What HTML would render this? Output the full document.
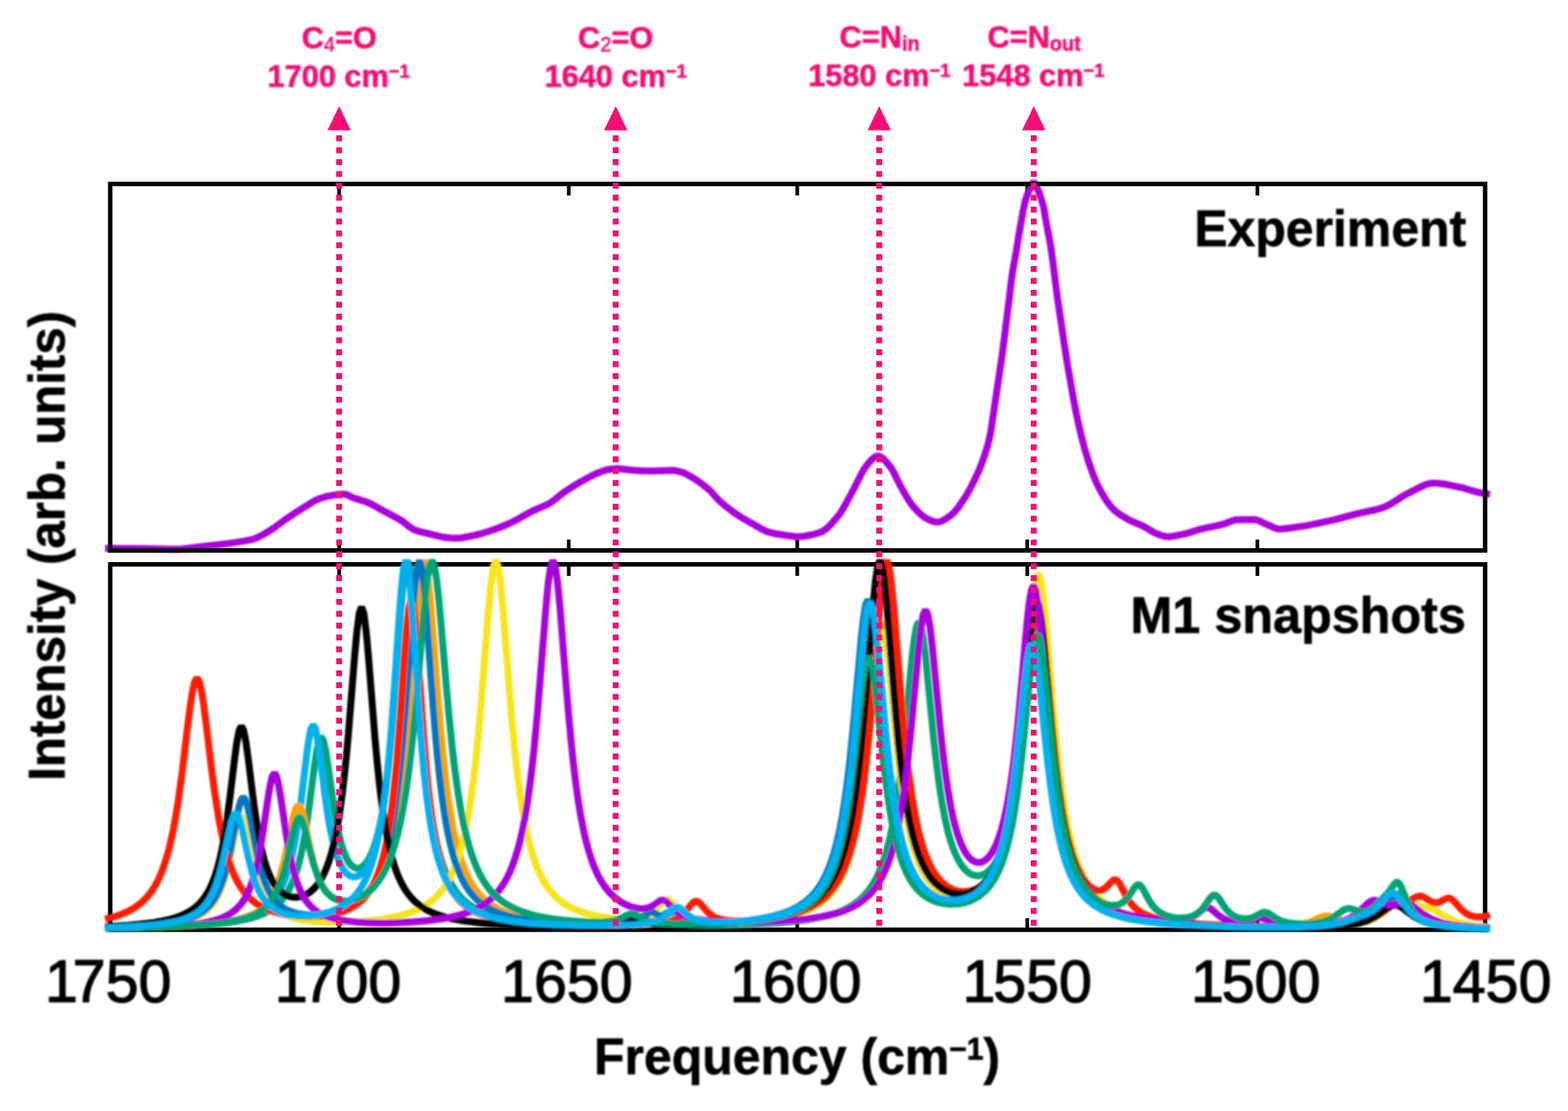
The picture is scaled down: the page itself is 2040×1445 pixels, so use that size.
<!DOCTYPE html>
<html lang="en"><head><meta charset="utf-8"><title>IR spectra: experiment vs M1 snapshots</title>
<style>html,body{margin:0;padding:0;background:#fff}body{width:2040px;height:1445px;overflow:hidden}svg{display:block}text{font-family:"Liberation Sans",sans-serif}.b{font-weight:bold}.pk{fill:#f50f74}</style></head><body>
<svg width="2040" height="1445" viewBox="0 0 2040 1445">
<defs><filter id="soft" x="0" y="0" width="2040" height="1445" filterUnits="userSpaceOnUse"><feGaussianBlur stdDeviation="0.8"/></filter></defs>
<rect width="2040" height="1445" fill="#fff"/>
<path d="M441.2,239.3V254.3M441.2,715.9V701.6999999999999M740.0,239.3V254.3M740.0,715.9V701.6999999999999M1037.2,239.3V254.3M1037.2,715.9V701.6999999999999M1336.5,239.3V254.3M1336.5,715.9V701.6999999999999M1635.9,239.3V254.3M1635.9,715.9V701.6999999999999" fill="none" stroke="#000" stroke-width="4.8"/>
<path d="M136.8,713.3L184.8,713.4L223.8,714.3L229.8,714.3L235.8,714L241.8,713.5L259.8,711.1L298.8,706.6L316.8,703.9L325.8,702.2L328.8,701.4L331.8,700.4L334.8,699.2L340.8,696.2L349.8,691L355.8,687.1L370.8,676L382.8,667.9L403.8,654.7L409.8,651.2L412.8,649.7L415.8,648.5L421.8,646.7L427.8,645.2L436.8,643.6L445.8,642.7L448.8,642.8L451.8,643.6L457.8,646.7L460.8,647.9L475.8,652.5L481.8,655L487.8,658.2L496.8,663.3L517.8,674.4L523.8,678.1L532.8,685.1L535.8,687.3L538.8,689L541.8,690.1L547.8,691.9L559.8,694.6L571.8,697.6L577.8,698.8L580.8,699.3L586.8,699.8L592.8,700.1L595.8,700L601.8,699.4L616.8,696.4L622.8,695L628.8,693.3L637.8,690.5L646.8,687.3L652.8,685L658.8,682.5L667.8,678.2L673.8,675.2L685.8,668.3L691.8,665.1L697.8,662.3L709.8,657.3L715.8,654.1L721.8,649.8L733.8,640.2L739.8,636.1L751.8,628.8L769.8,618.9L775.8,616L778.8,614.7L787.8,611.5L790.8,610.8L796.8,610L802.8,609.6L808.8,610L823.8,611.7L838.8,612.4L850.8,612.5L868.8,611.9L874.8,611.8L877.8,612.1L880.8,612.7L886.8,614.1L889.8,615.1L892.8,616.5L895.8,618.1L904.8,623.5L910.8,627.6L916.8,632.1L922.8,637.2L925.8,640.1L931.8,647L934.8,650.2L937.8,653L943.8,658.1L952.8,665L958.8,669.2L967.8,674.9L991.8,688.5L997.8,691.3L1000.8,692.3L1006.8,693.7L1021.8,696.2L1027.8,697.1L1033.8,697.7L1039.8,697.9L1045.8,697.5L1051.8,696.5L1057.8,695.2L1066.8,692.5L1069.8,691.3L1072.8,689.4L1075.8,687.1L1078.8,684.3L1081.8,681.1L1090.8,670.6L1093.8,666.4L1096.8,661.6L1099.8,656.3L1111.8,634.1L1120.8,616L1123.8,610.6L1126.8,606.3L1129.8,602.7L1132.8,599.2L1135.8,596.2L1138.8,594.1L1141.8,593.1L1144.8,593.7L1147.8,595.5L1150.8,598.3L1153.8,601.7L1156.8,605.2L1159.8,609.2L1162.8,614.4L1171.8,632.7L1180.8,648.3L1183.8,653L1186.8,657.2L1192.8,664L1195.8,667L1198.8,669.7L1201.8,672.1L1204.8,674L1210.8,676.9L1213.8,678L1216.8,678.8L1219.8,679.1L1222.8,678.6L1225.8,677.5L1228.8,675.9L1231.8,674L1237.8,669.7L1240.8,667L1243.8,663.6L1246.8,659.7L1255.8,646.5L1258.8,641.6L1261.8,636.2L1267.8,624.4L1273.8,611.3L1276.8,603.8L1279.8,595.6L1282.8,586.6L1285.8,576.2L1288.8,562.9L1303.8,462.2L1312.8,390.5L1315.8,364.4L1318.8,345.1L1321.8,329.2L1324.8,309.9L1330.8,275.6L1333.8,261.6L1337.2,251.5L1344.8,235.7L1352.4,251.5L1357.8,269.1L1360.8,287.2L1366.8,318.8L1369.8,340.5L1375.8,387.9L1384.8,448.5L1387.8,467.8L1390.8,485.8L1396.8,519.9L1399.8,535.4L1402.8,549.6L1405.8,562.7L1408.8,574.7L1411.8,585.8L1414.8,596L1417.8,605L1420.8,613.5L1423.8,621.3L1426.8,628.4L1429.8,634.6L1435.8,645.3L1438.8,650.1L1441.8,654.5L1444.8,658.3L1447.8,661.6L1450.8,664.4L1453.8,666.8L1456.8,669L1462.8,672.8L1471.8,677.7L1486.8,684.2L1489.8,685.6L1492.8,687.3L1498.8,691.2L1501.8,692.9L1507.8,695.3L1510.8,696.4L1513.8,697.3L1516.8,697.8L1519.8,697.9L1522.8,697.7L1525.8,697.4L1531.8,696.4L1543.8,693.9L1561.8,688.3L1567.8,686.8L1582.8,683.9L1588.8,682.5L1591.8,681.7L1603.8,677.2L1606.8,676.3L1609.8,675.9L1630.8,675.8L1633.8,676.1L1636.8,676.9L1639.8,678.2L1645.8,681.1L1651.8,683.7L1657.8,686.5L1660.8,687.5L1663.8,688L1669.8,687.8L1678.8,686.7L1699.8,683.6L1714.8,680.7L1735.8,676.2L1765.8,668.1L1789.8,663L1798.8,660.4L1801.8,659.3L1807.8,656.3L1813.8,652.6L1825.8,644.9L1828.8,643.2L1846.8,633.9L1852.8,631.1L1855.8,630L1858.8,629.2L1861.8,628.6L1864.8,628.4L1870.8,628.6L1876.8,629.3L1882.8,630.3L1903.8,634.7L1918.8,639.2L1924.8,640.8L1930.8,641.9L1938.5,642.7" fill="none" stroke="#a800dc" stroke-width="9.0" stroke-linejoin="bevel" filter="url(#soft)"/>
<rect x="143.4" y="239.3" width="1788.8" height="476.6" fill="none" stroke="#000" stroke-width="5.8"/>
<rect x="143.4" y="734.0" width="1788.8" height="475.3" fill="none" stroke="#000" stroke-width="5.8"/>
<path d="M441.2,734.0V749.0M441.2,1209.3V1194.3M740.0,734.0V749.0M740.0,1209.3V1194.3M1037.2,734.0V749.0M1037.2,1209.3V1194.3M1336.5,734.0V749.0M1336.5,1209.3V1194.3M1635.9,734.0V749.0M1635.9,1209.3V1194.3" fill="none" stroke="#000" stroke-width="4.8"/>
<g fill="none" stroke-linejoin="bevel" stroke-linecap="butt" stroke-width="9.0" filter="url(#soft)">
<path d="M136.8,1207.6L193.8,1206.4L216.3,1205.6L237.3,1204.7L255.3,1203.7L270.3,1202.7L285.3,1201.3L297.3,1199.8L307.8,1198.2L318.3,1196.2L327.3,1193.9L334.8,1191.5L342.3,1188.6L348.3,1185.6L354.3,1181.9L357.3,1179.7L360.3,1177.2L364.8,1172.8L369.3,1167.5L373.8,1160.8L376.8,1155.5L379.8,1149.3L382.8,1142L385.8,1133.3L388.8,1123L391.8,1110.8L393.3,1103.8L396.3,1088.1L397.8,1079.3L402.3,1048.8L408.6,1000.2L411.6,979.3L414.6,964.3L417.6,958.3L420.6,962.7L423.6,976L426.6,995.2L433.8,1046L436.8,1064.3L438.3,1072.5L441.3,1086.7L444.3,1098.3L447.3,1107.6L450.3,1114.9L453.3,1120.5L454.8,1122.7L456.3,1124.6L457.8,1126.1L459.3,1127.3L460.8,1128.2L462.3,1128.9L463.8,1129.3L465.3,1129.4L466.8,1129.3L468.3,1128.9L469.8,1128.2L471.3,1127.3L472.8,1126.2L475.8,1123L478.8,1118.8L480.3,1116.2L483.3,1110.1L486.3,1102.5L489.3,1093.1L492.3,1081.8L495.3,1068.1L498.3,1051.6L501.3,1031.9L504.3,1008.2L505.8,994.8L508.8,964.4L510.3,947.4L514.8,889.4L521,801.2L524,763.9L527,738.1L530,729L533,738.8L536,765.4L539,803.4L544.8,887.6L547.8,928.6L550.8,965.4L553.8,997.3L556.8,1024.7L558.3,1036.7L561.3,1058.1L564.3,1076.1L565.8,1084.1L568.8,1098.2L570.3,1104.4L573.3,1115.5L576.3,1125L579.3,1133.2L582.3,1140.3L585.3,1146.4L588.3,1151.8L592.8,1158.7L597.3,1164.5L601.8,1169.3L606.3,1173.4L610.8,1176.9L616.8,1180.8L622.8,1184L628.8,1186.7L636.3,1189.5L645.3,1192.2L654.3,1194.3L664.8,1196.3L675.3,1197.9L687.3,1199.3L700.8,1200.6L715.8,1201.6L732.3,1202.5L756.3,1203.3L777.3,1203.5L793.8,1203.2L805.8,1202.4L813.3,1201.3L819.3,1199.8L822.3,1198.8L825.3,1197.6L832.8,1193.6L835.8,1192.2L838.8,1191.4L840.3,1191.4L841.8,1191.5L844.8,1192.5L853.8,1197.2L856.8,1198.6L859.8,1199.7L862.8,1200.5L867.3,1201.5L874.8,1202.6L886.8,1203.5L904.8,1203.9L928.8,1203.9L955.8,1203.3L987.3,1202L1014.3,1200.3L1026.3,1199.2L1038.3,1197.9L1048.8,1196.5L1057.8,1195L1066.8,1193.2L1074.3,1191.5L1081.8,1189.4L1089.3,1186.9L1095.3,1184.5L1101.3,1181.7L1107.3,1178.4L1111.8,1175.5L1116.3,1172.1L1119.3,1169.6L1123.8,1165.3L1126.8,1162L1129.8,1158.4L1132.8,1154.3L1135.8,1149.7L1138.8,1144.5L1141.8,1138.6L1144.8,1131.9L1149.3,1120L1152.3,1110.6L1153.8,1105.4L1156.8,1093.8L1158.3,1087.3L1161.3,1072.9L1162.8,1064.8L1165.8,1046.8L1168.8,1026.1L1171.8,1002.5L1176.3,961.3L1186.3,857.8L1189.3,832.3L1192.3,814.9L1195.3,808.6L1198.3,814.2L1201.3,830.8L1204.3,855.6L1215.3,966L1219.8,1004.4L1222.8,1026.2L1225.8,1045.1L1228.8,1061.3L1230.3,1068.5L1233.3,1081.3L1234.8,1086.9L1237.8,1096.9L1239.3,1101.4L1242.3,1109.2L1245.3,1115.7L1248.3,1121.2L1251.3,1125.8L1254.3,1129.6L1257.3,1132.7L1260.3,1135.1L1263.3,1136.9L1264.8,1137.6L1267.8,1138.5L1270.8,1139L1273.8,1138.9L1275.3,1138.6L1278.3,1137.8L1281.3,1136.4L1284.3,1134.5L1287.3,1131.9L1290.3,1128.7L1291.8,1126.8L1294.8,1122.5L1296.3,1120L1299.3,1114.3L1300.8,1111L1303.8,1103.7L1305.3,1099.5L1308.3,1090.1L1311.3,1079.1L1312.8,1072.8L1315.8,1058.8L1318.8,1042.3L1321.8,1023.1L1324.8,1000.8L1327.8,975.3L1332.3,931L1341.5,830.6L1344.5,803.9L1347.5,786L1350.5,779.8L1353.5,786.7L1356.5,805.3L1359.5,832.7L1369.8,947L1374.3,990.8L1377.3,1015.9L1380.3,1037.8L1383.3,1056.9L1384.8,1065.4L1387.8,1080.7L1389.3,1087.6L1392.3,1099.9L1393.8,1105.4L1396.8,1115.3L1401.3,1127.9L1404.3,1135L1407.3,1141.2L1410.3,1146.7L1413.3,1151.6L1416.3,1156L1419.3,1159.8L1422.3,1163.3L1426.8,1167.9L1429.8,1170.6L1434.3,1174.1L1437.3,1176.2L1441.8,1179L1449.3,1183L1453.8,1185L1458.3,1186.8L1467.3,1189.8L1477.8,1192.7L1489.8,1195.2L1503.3,1197.4L1516.8,1199.1L1534.8,1200.9L1554.3,1202.3L1576.8,1203.5L1602.3,1204.4L1630.8,1205.1L1660.8,1205.5L1686.3,1205.5L1708.8,1205L1720.8,1204.6L1731.3,1204L1740.3,1203.2L1747.8,1202.3L1755.3,1201.2L1761.3,1199.9L1767.3,1198.3L1773.3,1196.3L1777.8,1194.3L1780.8,1192.7L1785.3,1189.9L1788.3,1187.7L1791.3,1185.2L1795.8,1180.9L1806.3,1169.2L1809.3,1166.3L1812.3,1164.1L1813.8,1163.3L1815.3,1162.8L1816.8,1162.7L1818.3,1162.8L1819.8,1163.2L1821.3,1163.9L1824.3,1166.1L1827.3,1169L1836.3,1179.1L1839.3,1182.3L1843.8,1186.5L1846.8,1188.9L1849.8,1191.1L1854.3,1193.8L1858.8,1196.1L1863.3,1197.9L1869.3,1199.8L1875.3,1201.3L1882.8,1202.8L1891.8,1204.1L1900.8,1205.1L1911.3,1205.9L1923.3,1206.6L1938.3,1207.2" stroke="#00a374"/>
<path d="M136.8,1207.5L190.8,1206.2L213.3,1205.4L232.8,1204.5L250.8,1203.5L265.8,1202.3L279.3,1200.9L291.3,1199.2L301.8,1197.4L310.8,1195.5L319.8,1192.9L327.3,1190.3L334.8,1186.9L340.8,1183.4L343.8,1181.4L346.8,1179.1L351.3,1175.1L355.8,1170.2L360.3,1164.2L364.8,1156.7L367.8,1150.6L370.8,1143.5L373.8,1135.1L376.8,1125.1L379.8,1113.3L382.8,1099.2L384.3,1091.2L387.3,1073.1L388.8,1063L391.8,1040.8L398.3,987.1L401.3,964.7L404.3,948.7L407.3,942.5L410.3,947.5L413.3,962.3L416.3,983.4L423.3,1037.9L426.3,1058.4L427.8,1067.6L429.3,1076L432.3,1090.7L435.3,1102.8L438.3,1112.7L441.3,1120.6L442.8,1123.9L445.8,1129.4L447.3,1131.7L450.3,1135.3L451.8,1136.7L454.8,1138.8L456.3,1139.5L457.8,1140L459.3,1140.3L460.8,1140.4L462.3,1140.3L465.3,1139.5L468.3,1137.8L469.8,1136.7L472.8,1133.8L474.3,1132L477.3,1127.7L478.8,1125.1L481.8,1119.1L484.8,1111.6L486.3,1107.4L489.3,1097.4L492.3,1085.4L495.3,1070.9L498.3,1053.4L501.3,1032.3L504.3,1006.9L505.8,992.4L508.8,959.6L510.3,941.1L513.3,900.5L519.5,807.7L522.5,767.4L525.5,739.1L528.5,729L531.5,739.7L534.5,768.7L537.5,809.6L543.3,897.9L546.3,939.9L549.3,976.9L552.3,1008.6L555.3,1035.3L558.3,1057.9L561.3,1076.7L562.8,1085L565.8,1099.6L567.3,1106L570.3,1117.3L573.3,1126.9L576.3,1135.2L579.3,1142.3L582.3,1148.5L585.3,1153.8L589.8,1160.6L592.8,1164.5L597.3,1169.5L601.8,1173.7L606.3,1177.2L610.8,1180.3L616.8,1183.7L622.8,1186.5L630.3,1189.4L636.3,1191.3L642.3,1192.9L648.3,1194.3L655.8,1195.8L663.3,1197.1L672.3,1198.3L690.3,1200.2L712.8,1201.8L738.3,1202.9L766.8,1203.5L795.3,1203.6L811.8,1203.2L823.8,1202.6L834.3,1201.5L841.8,1200.1L847.8,1198.3L852.3,1196.4L856.8,1193.8L862.8,1189.6L865.8,1187.8L867.3,1187.1L868.8,1186.7L870.3,1186.6L871.8,1186.8L873.3,1187.2L874.8,1187.9L883.8,1193.7L888.3,1196L892.8,1197.7L897.3,1198.9L904.8,1200L913.8,1200.7L925.8,1200.8L939.3,1200.5L949.8,1200L960.3,1199.2L970.8,1198.3L979.8,1197.3L988.8,1196L996.3,1194.8L1003.8,1193.4L1011.3,1191.6L1018.8,1189.6L1024.8,1187.6L1030.8,1185.4L1035.3,1183.4L1039.8,1181.2L1044.3,1178.6L1048.8,1175.7L1053.3,1172.3L1057.8,1168.4L1060.8,1165.4L1063.8,1162.1L1066.8,1158.4L1069.8,1154.2L1072.8,1149.6L1075.8,1144.3L1078.8,1138.3L1083.3,1127.8L1087.8,1114.9L1090.8,1104.7L1092.3,1099L1095.3,1086.3L1096.8,1079.2L1099.8,1063.4L1102.8,1045.1L1105.8,1024L1108.8,999.7L1111.8,972.3L1114.8,941.8L1124,841L1127,814.1L1130,795.9L1133,789.4L1136,795.7L1139,813.6L1142,840.2L1152.3,951.6L1156.8,994.2L1159.8,1018.6L1162.8,1039.8L1165.8,1058.2L1167.3,1066.4L1170.3,1081.1L1171.8,1087.7L1174.8,1099.4L1176.3,1104.6L1179.3,1114L1180.8,1118.2L1183.8,1125.8L1186.8,1132.3L1189.8,1138L1192.8,1143L1195.8,1147.3L1198.8,1151.1L1201.8,1154.4L1204.8,1157.3L1209.3,1161L1212.3,1163L1216.8,1165.6L1219.8,1167L1222.8,1168.1L1228.8,1169.9L1234.8,1170.9L1237.8,1171.2L1242.3,1171.2L1248.3,1170.7L1254.3,1169.5L1260.3,1167.6L1263.3,1166.3L1266.3,1164.8L1270.8,1161.9L1275.3,1158.4L1279.8,1154.1L1284.3,1148.7L1288.8,1142.1L1291.8,1136.9L1296.3,1127.5L1299.3,1119.9L1302.3,1111.2L1303.8,1106.4L1306.8,1095.5L1308.3,1089.3L1311.3,1075.7L1312.8,1068L1315.8,1050.9L1317.3,1041.3L1320.3,1020.1L1324.8,982.9L1327.8,954.7L1336,873.7L1339,849.6L1342,833.3L1345,827.7L1348,833.6L1351,850.2L1354,874.6L1362.3,957.4L1365.3,985.8L1369.8,1023.4L1372.8,1044.8L1375.8,1063.5L1378.8,1079.7L1380.3,1086.9L1383.3,1099.9L1384.8,1105.7L1387.8,1116.1L1389.3,1120.8L1392.3,1129.2L1396.8,1139.9L1399.8,1145.9L1402.8,1151.2L1405.8,1155.9L1408.8,1160.1L1411.8,1163.8L1414.8,1167.1L1417.8,1170.1L1422.3,1174L1425.3,1176.2L1429.8,1179.3L1432.8,1181.1L1437.3,1183.5L1444.8,1186.9L1453.8,1190.1L1464.3,1193.1L1474.8,1195.4L1486.8,1197.5L1500.3,1199.3L1515.3,1200.9L1534.8,1202.4L1555.8,1203.6L1581.3,1204.6L1608.3,1205.4L1638.3,1205.8L1666.8,1205.9L1690.8,1205.7L1711.8,1205.1L1722.3,1204.5L1731.3,1203.8L1738.8,1203.1L1746.3,1202.1L1752.3,1201L1758.3,1199.7L1764.3,1197.9L1768.8,1196.2L1773.3,1194.2L1776.3,1192.6L1779.3,1190.7L1782.3,1188.6L1785.3,1186.2L1789.8,1182L1792.8,1178.8L1800.3,1170.4L1804.8,1165.9L1807.8,1163.8L1809.3,1163.1L1810.8,1162.7L1812.3,1162.7L1813.8,1162.9L1815.3,1163.4L1816.8,1164.2L1819.8,1166.5L1822.8,1169.5L1830.3,1178L1834.8,1182.8L1837.8,1185.7L1842.3,1189.4L1845.3,1191.5L1849.8,1194.2L1854.3,1196.4L1858.8,1198.2L1864.8,1200.1L1872.3,1201.9L1879.8,1203.2L1888.8,1204.4L1899.3,1205.5L1909.8,1206.2L1923.3,1206.9L1938.3,1207.5" stroke="#00b1ee"/>
<path d="M136.8,1207.7L184.8,1206.7L222.3,1205.5L252.3,1203.9L264.3,1203L276.3,1201.9L286.8,1200.6L295.8,1199.2L303.3,1197.8L310.8,1196L316.8,1194.2L322.8,1192L328.8,1189.2L333.3,1186.6L337.8,1183.4L340.8,1180.9L345.3,1176.5L348.3,1172.8L351.3,1168.6L354.3,1163.6L357.3,1157.6L360.3,1150.5L363.3,1142.2L364.8,1137.4L367.8,1126.6L369.3,1120.6L372.3,1107.3L379,1074.1L382,1060.6L385,1051L388,1047.3L391,1050.4L394,1059.3L397,1072L402.3,1097.3L405.3,1110.6L408.3,1122.3L411.3,1132.3L414.3,1140.6L415.8,1144.2L418.8,1150.4L421.8,1155.5L423.3,1157.7L426.3,1161.4L429.3,1164.3L432.3,1166.7L435.3,1168.5L438.3,1169.9L441.3,1170.9L445.8,1171.8L448.8,1172L453.3,1171.8L457.8,1171L462.3,1169.7L466.8,1167.8L469.8,1166.1L474.3,1163.1L477.3,1160.7L480.3,1157.9L483.3,1154.7L486.3,1151L489.3,1146.8L493.8,1139.3L498.3,1130.1L501.3,1122.8L502.8,1118.7L505.8,1109.6L507.3,1104.6L510.3,1093.2L513.3,1080L514.8,1072.5L517.8,1055.9L520.8,1036.4L523.8,1013.6L526.8,987.2L529.8,956.8L534.3,903.8L542.8,792.2L545.8,759.3L548.8,736.9L551.8,729L554.8,737.1L557.8,759.6L560.8,792.7L568.8,898.3L571.8,935.3L574.8,968.5L577.8,997.7L580.8,1023L582.3,1034.4L585.3,1054.6L588.3,1071.9L589.8,1079.6L592.8,1093.4L595.8,1105.2L598.8,1115.5L601.8,1124.4L604.8,1132.1L607.8,1138.9L610.8,1144.9L613.8,1150.1L618.3,1156.9L622.8,1162.6L627.3,1167.4L631.8,1171.6L636.3,1175.1L642.3,1179.1L648.3,1182.4L654.3,1185.2L661.8,1188.1L669.3,1190.4L678.3,1192.8L688.8,1194.9L699.3,1196.7L711.3,1198.2L723.3,1199.4L736.8,1200.5L751.8,1201.3L771.3,1202L789.3,1202.3L804.3,1202.1L816.3,1201.3L823.8,1200.3L829.8,1199L832.8,1198L835.8,1196.8L844.8,1192.6L847.8,1191.6L849.3,1191.4L850.8,1191.4L853.8,1192L856.8,1193.3L864.3,1196.8L867.3,1198L870.3,1198.9L876.3,1200.3L882.3,1201.1L892.8,1201.9L904.8,1202.2L921.3,1202.1L939.3,1201.6L963.3,1200.3L975.3,1199.4L985.8,1198.4L996.3,1197.2L1005.3,1195.9L1014.3,1194.3L1021.8,1192.8L1029.3,1191L1036.8,1188.8L1042.8,1186.7L1048.8,1184.3L1054.8,1181.4L1059.3,1178.9L1063.8,1176L1068.3,1172.6L1072.8,1168.8L1075.8,1165.8L1078.8,1162.5L1081.8,1158.9L1084.8,1154.7L1087.8,1150.1L1092.3,1142L1096.8,1132.1L1101.3,1120.1L1104.3,1110.6L1105.8,1105.3L1108.8,1093.5L1110.3,1086.9L1113.3,1072.2L1114.8,1064L1117.8,1045.7L1120.8,1024.6L1123.8,1000.5L1128.3,958.7L1138,857.7L1141,832.1L1144,814.8L1147,808.6L1150,814.5L1153,831.5L1156,856.8L1164.3,942.6L1167.3,972.1L1171.8,1011L1174.8,1033.1L1176.3,1043L1179.3,1060.9L1180.8,1068.9L1183.8,1083.1L1185.3,1089.4L1188.3,1100.8L1189.8,1105.9L1192.8,1114.9L1195.8,1122.7L1198.8,1129.4L1201.8,1135.3L1206.3,1142.6L1210.8,1148.5L1215.3,1153.2L1219.8,1157L1224.3,1160.1L1228.8,1162.4L1231.8,1163.6L1234.8,1164.6L1237.8,1165.3L1240.8,1165.8L1243.8,1166.2L1246.8,1166.3L1249.8,1166.2L1252.8,1165.9L1255.8,1165.4L1258.8,1164.7L1261.8,1163.7L1264.8,1162.5L1269.3,1160.2L1273.8,1157.3L1276.8,1154.9L1279.8,1152.2L1282.8,1149L1285.8,1145.3L1288.8,1141.1L1293.3,1133.5L1297.8,1124.1L1300.8,1116.6L1302.3,1112.4L1305.3,1103.1L1306.8,1097.9L1309.8,1086.2L1311.3,1079.6L1314.3,1065L1315.8,1056.8L1318.8,1038.4L1321.8,1017.1L1324.8,992.7L1329.3,950.1L1339.5,840L1342.5,813.5L1345.5,795.6L1348.5,789.4L1351.5,796L1354.5,814.1L1357.5,841L1366.8,942.8L1369.8,973.2L1372.8,1000.6L1375.8,1024.7L1378.8,1045.7L1381.8,1063.9L1383.3,1072.1L1386.3,1086.7L1387.8,1093.3L1390.8,1105L1392.3,1110.3L1395.3,1119.8L1399.8,1131.8L1402.8,1138.6L1405.8,1144.6L1408.8,1149.8L1411.8,1154.5L1414.8,1158.7L1417.8,1162.4L1420.8,1165.7L1425.3,1170L1428.3,1172.6L1432.8,1176L1438.8,1179.8L1446.3,1183.8L1453.8,1187L1461.3,1189.6L1470.3,1192.2L1480.8,1194.6L1491.3,1196.5L1503.3,1198.3L1516.8,1199.8L1533.3,1201.3L1549.8,1202.4L1569.3,1203.5L1590.3,1204.2L1612.8,1204.8L1633.8,1205L1653.3,1204.9L1666.8,1204.5L1677.3,1203.9L1686.3,1203.1L1693.8,1201.9L1699.8,1200.5L1704.3,1199.1L1708.8,1197.3L1717.8,1193.2L1720.8,1192.1L1723.8,1191.5L1725.3,1191.3L1726.8,1191.4L1729.8,1191.9L1732.8,1192.8L1738.8,1195L1743.3,1196.5L1746.3,1197.2L1750.8,1198L1755.3,1198.4L1761.3,1198.4L1767.3,1197.9L1771.8,1197L1776.3,1195.9L1780.8,1194.3L1785.3,1192.3L1788.3,1190.7L1791.3,1188.8L1795.8,1185.4L1798.8,1182.9L1807.8,1174.7L1810.8,1172.4L1813.8,1170.7L1815.3,1170.2L1816.8,1169.9L1818.3,1169.8L1819.8,1170L1821.3,1170.5L1822.8,1171.2L1825.8,1173.1L1828.8,1175.6L1836.3,1182.8L1840.8,1186.8L1843.8,1189.2L1848.3,1192.3L1851.3,1194.1L1855.8,1196.3L1860.3,1198.2L1864.8,1199.7L1870.8,1201.3L1876.8,1202.5L1884.3,1203.8L1893.3,1204.8L1902.3,1205.7L1912.8,1206.4L1938.3,1207.5" stroke="#fba400"/>
<path d="M136.8,1207.2L166.8,1206.2L190.8,1205L210.3,1203.4L219.3,1202.3L226.8,1201.2L234.3,1199.9L240.3,1198.5L246.3,1196.7L250.8,1195.2L255.3,1193.3L259.8,1191L264.3,1188.2L267.3,1185.9L270.3,1183.3L273.3,1180.3L276.3,1176.7L279.3,1172.4L282.3,1167.4L283.8,1164.6L286.8,1158L288.3,1154.3L291.3,1145.8L292.8,1141L295.8,1130.2L298.8,1117.8L305.5,1086.8L308.5,1074.3L311.5,1065.4L314.5,1062.2L317.5,1065.3L320.5,1074.1L323.5,1086.5L330.3,1117.7L333.3,1129.9L334.8,1135.5L337.8,1145.4L340.8,1153.7L343.8,1160.7L346.8,1166.5L349.8,1171.4L352.8,1175.5L355.8,1179L358.8,1181.9L363.3,1185.5L367.8,1188.3L373.8,1191.3L378.3,1193L382.8,1194.3L387.3,1195.5L393.3,1196.7L399.3,1197.6L405.3,1198.3L418.8,1199.2L435.3,1199.6L453.3,1199.3L471.3,1198.3L480.3,1197.5L489.3,1196.6L502.8,1194.6L514.8,1192.3L525.3,1189.6L531.3,1187.8L535.8,1186.2L540.3,1184.3L544.8,1182.3L552.3,1178.2L556.8,1175.3L559.8,1173.1L565.8,1168.1L570.3,1163.6L573.3,1160.1L576.3,1156.3L579.3,1152L582.3,1147.2L585.3,1141.7L589.8,1132.2L594.3,1120.7L598.8,1106.6L601.8,1095.4L603.3,1089.2L606.3,1075.3L607.8,1067.6L610.8,1050.3L612.3,1040.6L615.3,1019.1L618.3,994.2L621.3,965.7L625.8,916.1L636,788.1L639,757.2L642,736.4L645,729L648,736.4L651,757.2L654,788.1L663.3,905.2L666.3,940.1L669.3,971.6L672.3,999.3L675.3,1023.4L676.8,1034.3L679.8,1053.7L682.8,1070.5L684.3,1078L687.3,1091.4L690.3,1103.1L693.3,1113.2L696.3,1122L699.3,1129.7L702.3,1136.5L705.3,1142.5L708.3,1147.8L712.8,1154.6L717.3,1160.3L721.8,1165.2L726.3,1169.4L730.8,1173L735.3,1176.1L741.3,1179.6L747.3,1182.5L754.8,1185.5L763.8,1188.4L772.8,1190.7L781.8,1192.4L792.3,1193.9L802.8,1194.9L813.3,1195.4L822.3,1195.2L829.8,1194.5L834.3,1193.7L838.8,1192.6L843.3,1190.8L846.3,1189.2L849.3,1187.1L852.3,1184.5L855.3,1181.4L861.3,1174.3L864.3,1171.3L865.8,1170.3L867.3,1169.9L868.8,1169.9L870.3,1170.5L871.8,1171.6L873.3,1173L882.3,1183.9L886.8,1188.1L889.8,1190.3L894.3,1192.8L897.3,1194.1L901.8,1195.6L906.3,1196.6L912.3,1197.6L919.8,1198.4L927.3,1198.8L936.3,1199.1L946.8,1199.1L957.3,1198.9L969.3,1198.4L988.8,1197L997.8,1196L1006.8,1194.9L1014.3,1193.7L1021.8,1192.3L1029.3,1190.6L1035.3,1189L1041.3,1187.2L1047.3,1185L1053.3,1182.4L1057.8,1180.2L1062.3,1177.6L1066.8,1174.6L1071.3,1171.2L1074.3,1168.6L1077.3,1165.7L1080.3,1162.5L1083.3,1158.8L1086.3,1154.8L1089.3,1150.2L1092.3,1145L1096.8,1135.9L1101.3,1124.8L1104.3,1116L1105.8,1111.1L1108.8,1100.2L1110.3,1094.2L1113.3,1080.6L1116.3,1064.9L1119.3,1046.8L1122.3,1025.9L1125.3,1002.1L1129.8,961L1139,868.1L1142,843.3L1145,826.6L1148,820.5L1151,826.2L1154,842.7L1157,867.1L1165.8,955L1168.8,983.1L1171.8,1008.4L1173.3,1020L1176.3,1040.9L1177.8,1050.2L1180.8,1067.1L1182.3,1074.6L1185.3,1088L1186.8,1093.9L1189.8,1104.6L1191.3,1109.4L1194.3,1117.9L1197.3,1125.2L1201.8,1134.4L1204.8,1139.5L1209.3,1145.8L1213.8,1150.9L1218.3,1155L1222.8,1158.3L1227.3,1160.8L1230.3,1162.1L1233.3,1163.1L1236.3,1164L1239.3,1164.6L1242.3,1165L1245.3,1165.1L1248.3,1165.1L1251.3,1164.9L1254.3,1164.4L1257.3,1163.8L1260.3,1162.9L1263.3,1161.8L1266.3,1160.4L1269.3,1158.8L1273.8,1155.8L1278.3,1152L1281.3,1149L1284.3,1145.6L1287.3,1141.6L1290.3,1137.1L1293.3,1131.9L1297.8,1122.6L1300.8,1115.2L1302.3,1111.1L1305.3,1101.9L1306.8,1096.8L1309.8,1085.4L1311.3,1079L1314.3,1064.6L1317.3,1048L1318.8,1038.7L1321.8,1017.8L1324.8,993.8L1327.8,966.2L1332.3,918.3L1342,802.3L1345,773L1348,753.2L1351,746.4L1354,753.6L1357,773.6L1360,803.3L1369.8,921.4L1374.3,969.7L1377.3,997.5L1380.3,1021.8L1383.3,1042.9L1384.8,1052.3L1387.8,1069.3L1389.3,1076.8L1392.3,1090.5L1393.8,1096.6L1396.8,1107.5L1401.3,1121.4L1404.3,1129.2L1407.3,1136.1L1410.3,1142.1L1413.3,1147.5L1416.3,1152.2L1419.3,1156.5L1422.3,1160.2L1426.8,1165.2L1429.8,1168.1L1434.3,1172L1440.3,1176.4L1443.3,1178.3L1447.8,1180.8L1452.3,1183.1L1456.8,1185.1L1465.8,1188.4L1474.8,1191.1L1485.3,1193.7L1497.3,1196L1510.8,1198L1525.8,1199.7L1543.8,1201.3L1563.3,1202.6L1584.3,1203.6L1609.8,1204.5L1636.8,1205.2L1663.8,1205.5L1689.3,1205.5L1719.3,1205L1731.3,1204.6L1741.8,1203.9L1750.8,1203.1L1759.8,1202L1767.3,1200.7L1773.3,1199.4L1777.8,1198.1L1782.3,1196.5L1786.8,1194.6L1791.3,1192.3L1795.8,1189.4L1800.3,1186L1812.3,1175.3L1815.3,1172.9L1818.3,1171.1L1819.8,1170.4L1821.3,1170L1822.8,1169.7L1824.3,1169.7L1827.3,1170.1L1830.3,1171.2L1839.3,1175.7L1843.8,1177.5L1848.3,1178.8L1858.8,1180.8L1863.3,1182.3L1866.3,1183.6L1869.3,1185.3L1879.8,1191.7L1884.3,1194.1L1890.3,1196.9L1896.3,1199.1L1900.8,1200.4L1905.3,1201.5L1914.3,1203.2L1924.8,1204.6L1938.3,1205.8" stroke="#f7e41c"/>
<path d="M136.8,1206.6L166.8,1205.5L190.8,1204L201.3,1203.1L210.3,1202.2L219.3,1201L226.8,1199.7L234.3,1198.2L240.3,1196.6L246.3,1194.7L250.8,1193L256.8,1190.2L261.3,1187.5L265.8,1184.3L268.8,1181.7L271.8,1178.7L274.8,1175.2L277.8,1171.2L280.8,1166.3L283.8,1160.6L285.3,1157.4L288.3,1150L289.8,1145.8L292.8,1136.1L294.3,1130.7L295.8,1124.8L298.8,1111.5L301.8,1096.5L307.5,1065.5L310.5,1051L313.5,1040.6L316.5,1036.8L319.5,1040.4L322.5,1050.5L325.5,1064.8L331.8,1098.4L334.8,1112.9L337.8,1125.5L339.3,1131.1L342.3,1141L343.8,1145.3L346.8,1152.8L349.8,1159.1L352.8,1164.4L355.8,1168.8L358.8,1172.4L361.8,1175.5L364.8,1178.1L367.8,1180.3L370.8,1182.2L373.8,1183.7L376.8,1185.1L382.8,1187.1L390.3,1188.8L397.8,1189.7L406.8,1190.1L415.8,1189.8L424.8,1188.8L433.8,1187.1L441.3,1185.1L448.8,1182.4L454.8,1179.7L460.8,1176.3L466.8,1172.1L469.8,1169.6L472.8,1166.9L477.3,1162.1L480.3,1158.4L483.3,1154.2L486.3,1149.4L489.3,1144L493.8,1134.4L496.8,1126.8L498.3,1122.6L501.3,1113.1L502.8,1107.8L505.8,1095.9L508.8,1082L510.3,1074.2L513.3,1056.5L516.3,1035.8L519.3,1011.5L522.3,983.1L523.8,967.2L528.3,913.2L536.7,797.6L539.7,762.1L542.7,737.7L545.7,729L548.7,737.8L551.7,762.2L554.7,797.7L561.3,889.4L564.3,928.8L567.3,964.3L568.8,980.3L571.8,1009.2L574.8,1034L577.8,1055.1L580.8,1073.1L582.3,1081.1L585.3,1095.3L586.8,1101.6L589.8,1112.8L592.8,1122.5L595.8,1130.8L598.8,1138.1L603.3,1147.3L606.3,1152.5L610.8,1159.2L615.3,1164.8L619.8,1169.5L624.3,1173.5L628.8,1176.9L633.3,1179.8L639.3,1183.2L645.3,1185.9L652.8,1188.8L657.3,1190.3L663.3,1192L675.3,1194.7L688.8,1196.9L705.3,1198.9L723.3,1200.5L742.8,1201.5L765.3,1202.2L784.8,1202.3L796.8,1202L805.8,1201.5L813.3,1200.7L820.8,1199.3L825.3,1198.1L829.8,1196.3L834.3,1193.9L843.3,1188L844.8,1187.3L846.3,1186.8L847.8,1186.6L849.3,1186.7L850.8,1187.1L852.3,1187.7L855.3,1189.5L861.3,1193.4L864.3,1195.1L867.3,1196.5L870.3,1197.6L873.3,1198.4L879.3,1199.7L888.3,1200.7L900.3,1201.2L915.3,1201.1L931.8,1200.6L954.3,1199.1L973.8,1197.2L982.8,1195.9L991.8,1194.5L999.3,1193L1006.8,1191.3L1014.3,1189.2L1020.3,1187.3L1026.3,1185L1030.8,1183L1036.8,1180L1041.3,1177.3L1045.8,1174.2L1050.3,1170.7L1054.8,1166.6L1057.8,1163.5L1060.8,1160L1063.8,1156.1L1066.8,1151.8L1069.8,1146.8L1074.3,1138.3L1078.8,1127.9L1083.3,1115.1L1086.3,1105.1L1087.8,1099.5L1090.8,1087L1092.3,1080L1095.3,1064.5L1096.8,1055.8L1099.8,1036.4L1102.8,1014.1L1105.8,988.6L1110.3,944.2L1120.3,832.6L1123.3,805.1L1126.3,786.5L1129.3,779.9L1132.3,786.3L1135.3,804.6L1138.3,831.8L1149.3,952.9L1153.8,995.3L1156.8,1019.4L1159.8,1040.5L1162.8,1058.6L1164.3,1066.7L1167.3,1081.2L1168.8,1087.7L1171.8,1099.2L1173.3,1104.4L1176.3,1113.7L1177.8,1117.8L1180.8,1125.3L1185.3,1134.7L1188.3,1140L1191.3,1144.6L1194.3,1148.6L1197.3,1152.1L1200.3,1155.2L1204.8,1159.1L1207.8,1161.2L1212.3,1164L1215.3,1165.5L1218.3,1166.7L1221.3,1167.8L1225.8,1169L1231.8,1170L1234.8,1170.3L1239.3,1170.3L1243.8,1170L1246.8,1169.6L1252.8,1168.3L1258.8,1166.2L1261.8,1164.8L1264.8,1163.2L1267.8,1161.3L1270.8,1159.1L1275.3,1155.2L1279.8,1150.4L1284.3,1144.6L1288.8,1137.4L1291.8,1131.7L1296.3,1121.5L1299.3,1113.3L1302.3,1103.9L1303.8,1098.7L1306.8,1086.9L1308.3,1080.3L1311.3,1065.6L1312.8,1057.4L1315.8,1038.9L1317.3,1028.6L1320.3,1005.8L1321.8,993.1L1324.8,965.4L1327.8,934.8L1336.5,840.2L1339.5,813.6L1342.5,795.7L1345.5,789.4L1348.5,796L1351.5,814.1L1354.5,841L1363.8,942.9L1366.8,973.3L1369.8,1000.7L1372.8,1024.8L1375.8,1045.8L1378.8,1064.1L1380.3,1072.2L1383.3,1086.9L1384.8,1093.4L1387.8,1105.2L1389.3,1110.5L1392.3,1120L1396.8,1132L1399.8,1138.8L1402.8,1144.7L1405.8,1150L1408.8,1154.6L1411.8,1158.8L1414.8,1162.5L1417.8,1165.8L1422.3,1170.2L1425.3,1172.7L1429.8,1176.1L1432.8,1178.1L1437.3,1180.8L1444.8,1184.6L1453.8,1188.2L1462.8,1191.1L1473.3,1193.7L1483.8,1195.8L1497.3,1198L1510.8,1199.6L1528.8,1201.3L1548.3,1202.7L1570.8,1203.9L1594.8,1204.7L1623.3,1205.4L1651.8,1205.8L1678.8,1205.9L1702.8,1205.6L1716.3,1205.2L1726.8,1204.7L1735.8,1204.1L1744.8,1203.2L1752.3,1202.2L1758.3,1201.1L1764.3,1199.7L1770.3,1198L1774.8,1196.3L1777.8,1194.9L1782.3,1192.5L1785.3,1190.6L1788.3,1188.4L1792.8,1184.7L1795.8,1181.9L1803.3,1174.3L1807.8,1170.3L1810.8,1168.5L1812.3,1167.9L1813.8,1167.5L1815.3,1167.4L1816.8,1167.6L1818.3,1168.1L1819.8,1168.8L1822.8,1170.9L1825.8,1173.6L1833.3,1181.2L1837.8,1185.5L1840.8,1188.1L1845.3,1191.4L1848.3,1193.3L1852.8,1195.7L1857.3,1197.6L1861.8,1199.2L1867.8,1201L1873.8,1202.3L1881.3,1203.6L1890.3,1204.7L1900.8,1205.7L1911.3,1206.4L1938.3,1207.5" stroke="#0077bd"/>
<path d="M136.8,1195.4L144.3,1193.5L151.8,1191.3L157.8,1189.2L163.8,1186.7L169.8,1183.7L174.3,1181.1L178.8,1178L183.3,1174.5L187.8,1170.4L192.3,1165.5L196.8,1159.7L199.8,1155.2L202.8,1150.1L205.8,1144.4L208.8,1137.8L211.8,1130.2L216.3,1116.8L219.3,1106.2L220.8,1100.3L223.8,1087.1L225.3,1079.8L228.3,1063.6L231.3,1045.2L234.3,1024.4L237.3,1001.5L244.8,938.9L247.3,919.3L250.3,899.6L253.3,886.4L256.3,881.8L259.3,886.4L262.3,899.4L265.3,919L267.3,934.5L274.8,996.9L279.3,1030.9L283.8,1059.9L286.8,1076.3L289.8,1090.7L292.8,1103.1L295.8,1113.9L298.8,1123.3L301.8,1131.4L304.8,1138.5L309.3,1147.5L312.3,1152.6L316.8,1159.1L319.8,1162.8L322.8,1166L325.8,1169L330.3,1172.8L333.3,1175L337.8,1177.8L340.8,1179.5L345.3,1181.7L349.8,1183.6L354.3,1185.2L358.8,1186.5L364.8,1188.1L370.8,1189.3L376.8,1190.2L382.8,1190.9L388.8,1191.4L394.8,1191.7L402.3,1191.8L409.8,1191.6L415.8,1191.3L421.8,1190.7L427.8,1189.8L433.8,1188.7L439.8,1187.3L444.3,1186L448.8,1184.4L453.3,1182.5L457.8,1180.2L462.3,1177.5L465.3,1175.4L469.8,1171.7L472.8,1168.8L475.8,1165.5L478.8,1161.7L483.3,1154.8L486.3,1149.3L487.8,1146.2L490.8,1139.2L492.3,1135.3L495.3,1126.4L496.8,1121.3L499.8,1109.7L502.8,1095.9L505.8,1079.2L508.8,1059.1L511.8,1034.9L514.8,1006L516.3,989.6L520.8,932.6L526,857.9L529,818.5L532,790.2L535,779.8L538,790.3L541,818.6L544,858.2L550.8,954.6L553.8,991.3L555.3,1007.7L556.8,1022.7L559.8,1049.2L562.8,1071.2L565.8,1089.4L568.8,1104.6L570.3,1111.3L573.3,1122.9L576.3,1132.6L577.8,1136.9L580.8,1144.5L582.3,1147.9L585.3,1154L588.3,1159.1L591.3,1163.6L594.3,1167.6L597.3,1171L600.3,1174L604.8,1177.9L609.3,1181.2L615.3,1184.8L621.3,1187.7L627.3,1190.1L633.3,1192.1L640.8,1194.1L648.3,1195.8L657.3,1197.4L667.8,1198.9L678.3,1200L690.3,1201.1L702.3,1201.9L717.3,1202.7L732.3,1203.2L766.8,1203.9L802.8,1203.9L819.3,1203.6L832.8,1203.1L843.3,1202.6L852.3,1201.8L859.8,1200.9L867.3,1199.6L873.3,1197.9L877.8,1196.2L882.3,1193.9L885.3,1191.9L888.3,1189.4L891.3,1186.4L900.3,1175.5L901.8,1174L903.3,1172.9L904.8,1172.3L906.3,1172.3L907.8,1172.7L909.3,1173.7L912.3,1176.6L918.3,1183.7L921.3,1186.8L924.3,1189.4L928.8,1192.3L933.3,1194.3L937.8,1195.7L943.8,1196.9L951.3,1197.6L957.3,1197.9L963.3,1197.9L976.8,1197.4L991.8,1196.2L1006.8,1194.2L1018.8,1192L1024.8,1190.7L1030.8,1189.1L1036.8,1187.3L1041.3,1185.8L1045.8,1184.1L1050.3,1182.1L1056.3,1179.1L1060.8,1176.5L1066.8,1172.5L1071.3,1168.9L1075.8,1164.8L1080.3,1160L1084.8,1154.3L1087.8,1150L1092.3,1142.5L1095.3,1136.8L1098.3,1130.2L1101.3,1122.8L1104.3,1114.3L1107.3,1104.6L1110.3,1093.4L1111.8,1087.2L1114.8,1073.4L1116.3,1065.7L1119.3,1048.5L1122.3,1028.5L1123.8,1017.4L1126.8,992.7L1129.8,964.4L1132.8,932.4L1135.8,897L1144.5,788L1147.5,757.2L1150.5,736.5L1153.5,729L1156.5,736.1L1159.5,756.5L1162.5,786.9L1164.3,808.2L1170.3,883.9L1173.3,919.8L1177.8,967.4L1180.8,994.6L1183.8,1018.2L1186.8,1038.6L1189.8,1056.2L1191.3,1064L1194.3,1078L1195.8,1084.3L1198.8,1095.4L1200.3,1100.4L1203.3,1109.4L1204.8,1113.4L1207.8,1120.6L1210.8,1126.8L1213.8,1132.3L1216.8,1137L1219.8,1141L1222.8,1144.6L1227.3,1149L1230.3,1151.4L1234.8,1154.4L1239.3,1156.6L1242.3,1157.7L1245.3,1158.6L1249.8,1159.4L1252.8,1159.7L1255.8,1159.6L1258.8,1159.4L1261.8,1158.9L1266.3,1157.6L1269.3,1156.5L1272.3,1155L1276.8,1152.1L1281.3,1148.5L1285.8,1143.8L1290.3,1137.9L1293.3,1133.2L1296.3,1127.7L1299.3,1121.4L1302.3,1114L1305.3,1105.5L1308.3,1095.6L1309.8,1090L1312.8,1077.6L1314.3,1070.6L1317.3,1054.9L1318.8,1046.1L1321.8,1026.5L1324.8,1003.9L1326.3,991.4L1329.3,964L1332.3,933.6L1341,839.7L1344,813.3L1347,795.6L1350,789.4L1353,795.9L1356,814L1359,840.7L1368.3,941.7L1372.8,985.8L1375.8,1011.3L1378.8,1033.6L1381.8,1053L1384.8,1069.7L1387.8,1084.1L1389.3,1090.5L1392.3,1102L1395.3,1111.8L1396.8,1116.3L1399.8,1124.2L1401.3,1127.7L1404.3,1134L1407.3,1139.5L1410.3,1144.1L1411.8,1146.2L1414.8,1149.8L1417.8,1152.8L1420.8,1155.1L1423.8,1156.8L1426.8,1157.9L1429.8,1158.2L1431.3,1158.1L1432.8,1157.7L1434.3,1157.2L1435.8,1156.4L1438.8,1154.2L1440.3,1152.8L1446.3,1146.5L1447.8,1145.2L1449.3,1144.4L1450.8,1144.2L1452.3,1144.6L1453.8,1145.7L1455.3,1147.5L1456.8,1149.7L1465.8,1166.7L1468.8,1171.6L1471.8,1175.7L1474.8,1179.1L1479.3,1183.1L1482.3,1185.3L1486.8,1188L1492.8,1190.7L1498.8,1192.8L1506.3,1194.9L1515.3,1196.8L1525.8,1198.4L1536.3,1199.7L1548.3,1200.9L1561.8,1202L1585.8,1203.3L1614.3,1204.4L1644.3,1205.1L1675.8,1205.3L1701.3,1205.2L1723.8,1204.6L1741.8,1203.6L1755.3,1202.3L1762.8,1201.2L1770.3,1199.7L1776.3,1198L1782.3,1195.9L1788.3,1193.1L1792.8,1190.5L1797.3,1187.6L1807.8,1179.9L1810.8,1178.1L1813.8,1176.5L1818.3,1175L1827.3,1173.3L1830.3,1172.6L1834.8,1170.7L1842.3,1166.7L1845.3,1165.7L1846.8,1165.5L1848.3,1165.5L1849.8,1165.8L1851.3,1166.4L1854.3,1168L1858.8,1170.9L1861.8,1172.6L1864.8,1173.7L1867.8,1174.2L1869.3,1174.1L1872.3,1173.3L1875.3,1172L1879.8,1169.5L1881.3,1168.8L1882.8,1168.4L1884.3,1168.2L1885.8,1168.3L1887.3,1168.9L1888.8,1169.7L1890.3,1170.9L1893.3,1174L1899.3,1180.9L1903.8,1185.2L1906.8,1187.5L1908.3,1188.5L1911.3,1190L1914.3,1191.2L1917.3,1191.9L1920.3,1192.4L1923.3,1192.6L1926.3,1192.5L1929.3,1192.1L1933.8,1191.3L1938.3,1190.3" stroke="#ff1a00"/>
<path d="M136.8,1205.2L153.3,1204.3L166.8,1203.4L178.8,1202.3L190.8,1201L201.3,1199.6L210.3,1198L219.3,1196.1L226.8,1194L234.3,1191.4L240.3,1188.8L246.3,1185.6L250.8,1182.7L255.3,1179.2L259.8,1174.9L264.3,1169.7L267.3,1165.5L270.3,1160.7L273.3,1155.1L276.3,1148.4L279.3,1140.6L282.3,1131.3L283.8,1126L286.8,1114L288.3,1107.1L291.3,1091.5L292.8,1082.6L295.8,1062.8L298.8,1040.2L305,988.7L308,966.3L311,950.4L314,944.5L317,949.8L320,965.2L323,987L328.8,1034.1L331.8,1056.5L334.8,1076.1L337.8,1092.8L340.8,1106.9L343.8,1118.5L346.8,1128.2L348.3,1132.4L351.3,1139.6L354.3,1145.6L357.3,1150.6L360.3,1154.6L363.3,1157.9L366.3,1160.6L367.8,1161.7L370.8,1163.6L373.8,1165L378.3,1166.4L382.8,1167L387.3,1166.9L391.8,1166L396.3,1164.4L400.8,1162L403.8,1159.9L408.3,1155.9L411.3,1152.6L414.3,1148.7L415.8,1146.5L418.8,1141.5L420.3,1138.7L423.3,1132.3L424.8,1128.7L427.8,1120.6L430.8,1111L432.3,1105.5L435.3,1093.2L438.3,1078.4L441.3,1061L444.3,1040.2L445.8,1028.5L448.8,1001.9L450.3,987.1L453.3,954.3L461.4,853.5L464.4,820.5L467.4,797.6L470.4,789.4L473.4,797.9L476.4,821.1L479.4,854.4L487.8,959.5L490.8,992.2L493.8,1020.8L495.3,1033.5L498.3,1056L501.3,1075.1L504.3,1091.3L507.3,1104.9L508.8,1111L511.8,1121.7L513.3,1126.4L516.3,1134.9L519.3,1142.2L522.3,1148.5L525.3,1154L528.3,1158.8L531.3,1163L534.3,1166.7L537.3,1170L540.3,1172.9L543.3,1175.5L547.8,1178.9L553.8,1182.7L559.8,1185.8L565.8,1188.4L573.3,1191L580.8,1193.2L588.3,1195L597.3,1196.7L607.8,1198.4L619.8,1199.8L631.8,1201L645.3,1202L660.3,1202.8L676.8,1203.6L694.8,1204.1L735.3,1204.8L754.8,1204.8L771.3,1204.6L783.3,1204.2L793.8,1203.5L801.3,1202.6L807.3,1201.5L811.8,1200.2L820.8,1197L823.8,1196.3L825.3,1196.2L826.8,1196.2L829.8,1196.6L840.3,1199.9L843.3,1200.7L847.8,1201.7L855.3,1202.6L864.3,1203.1L880.8,1203.4L903.3,1203L927.3,1202L949.8,1200.7L964.8,1199.4L979.8,1197.8L993.3,1195.9L1005.3,1193.8L1015.8,1191.5L1026.3,1188.6L1035.3,1185.4L1042.8,1182.1L1048.8,1179L1053.3,1176.3L1059.3,1172.1L1063.8,1168.4L1068.3,1164.1L1072.8,1159L1077.3,1153.1L1080.3,1148.6L1084.8,1140.8L1087.8,1134.7L1090.8,1127.8L1093.8,1119.9L1096.8,1111L1099.8,1100.7L1102.8,1088.9L1104.3,1082.3L1107.3,1067.6L1108.8,1059.4L1111.8,1041.2L1114.8,1020L1117.8,995.6L1120.8,967.6L1123.8,936L1126.8,900.9L1135.8,788L1138.8,757.2L1141.8,736.5L1144.8,729L1147.8,736.1L1150.8,756.6L1153.8,787L1162.8,898.9L1165.8,933.6L1168.8,964.9L1171.8,992.5L1174.8,1016.6L1177.8,1037.4L1179.3,1046.6L1182.3,1063.2L1183.8,1070.6L1186.8,1083.9L1188.3,1089.8L1191.3,1100.4L1192.8,1105.1L1195.8,1113.6L1200.3,1124.3L1203.3,1130.2L1206.3,1135.4L1209.3,1140L1212.3,1143.9L1215.3,1147.3L1218.3,1150.3L1221.3,1152.8L1225.8,1156L1228.8,1157.8L1231.8,1159.2L1234.8,1160.4L1237.8,1161.3L1240.8,1162L1243.8,1162.5L1246.8,1162.7L1249.8,1162.8L1252.8,1162.6L1255.8,1162.2L1258.8,1161.5L1261.8,1160.7L1264.8,1159.6L1267.8,1158.2L1272.3,1155.5L1276.8,1152.1L1281.3,1147.8L1285.8,1142.5L1290.3,1135.9L1294.8,1127.6L1297.8,1121.1L1300.8,1113.5L1303.8,1104.6L1306.8,1094.4L1308.3,1088.7L1311.3,1075.8L1312.8,1068.7L1315.8,1052.5L1317.3,1043.5L1320.3,1023.3L1323.3,1000.1L1324.8,987.2L1327.8,959.1L1330.8,927.8L1339.5,831.5L1342.5,804.4L1345.5,786.2L1348.5,779.8L1351.5,786.6L1354.5,805.1L1357.5,832.6L1366.8,936.6L1369.8,967.7L1372.8,995.6L1375.8,1020.3L1378.8,1041.8L1381.8,1060.4L1383.3,1068.7L1386.3,1083.7L1387.8,1090.4L1390.8,1102.4L1392.3,1107.8L1395.3,1117.5L1399.8,1129.8L1402.8,1136.7L1405.8,1142.8L1408.8,1148.2L1411.8,1153L1414.8,1157.3L1417.8,1161.1L1420.8,1164.4L1425.3,1168.9L1428.3,1171.5L1432.8,1175L1438.8,1179L1446.3,1183L1453.8,1186.3L1462.8,1189.5L1471.8,1192L1482.3,1194.5L1494.3,1196.6L1506.3,1198.4L1519.8,1199.9L1536.3,1201.4L1554.3,1202.6L1573.8,1203.7L1596.3,1204.6L1620.3,1205.3L1645.8,1205.7L1671.3,1206L1704.3,1205.9L1717.8,1205.6L1729.8,1205.2L1740.3,1204.6L1749.3,1203.8L1756.8,1202.9L1764.3,1201.6L1770.3,1200.3L1774.8,1199L1779.3,1197.4L1783.8,1195.4L1788.3,1193L1792.8,1190.2L1803.3,1182.2L1807.8,1179.2L1810.8,1177.8L1812.3,1177.3L1813.8,1177.1L1815.3,1177L1816.8,1177.2L1818.3,1177.5L1819.8,1178.1L1822.8,1179.7L1825.8,1181.7L1833.3,1187.6L1837.8,1190.9L1840.8,1192.9L1845.3,1195.4L1848.3,1196.9L1852.8,1198.7L1857.3,1200.2L1861.8,1201.4L1867.8,1202.8L1873.8,1203.8L1881.3,1204.8L1890.3,1205.7L1911.3,1207L1938.3,1207.9" stroke="#000000"/>
<path d="M136.8,1207.8L180.3,1206.8L213.3,1205.5L226.8,1204.7L238.8,1203.7L249.3,1202.6L258.3,1201.5L267.3,1199.9L274.8,1198.3L282.3,1196.2L288.3,1194.1L294.3,1191.4L298.8,1188.9L303.3,1185.8L307.8,1182L312.3,1177.3L315.3,1173.4L318.3,1168.9L321.3,1163.5L324.3,1157L327.3,1149.3L330.3,1140L331.8,1134.7L334.8,1122.4L336.3,1115.4L339.3,1099.6L342.3,1081.3L348,1042.5L351,1023.7L354,1010.2L357,1005.2L360,1010.1L363,1023.5L366,1042.2L372.3,1084.7L375.3,1102.4L376.8,1110.4L379.8,1124.4L381.3,1130.6L384.3,1141.3L387.3,1150.2L390.3,1157.5L393.3,1163.7L396.3,1168.8L399.3,1173.1L403.8,1178.4L408.3,1182.5L411.3,1184.8L414.3,1186.8L418.8,1189.2L423.3,1191.3L427.8,1192.9L432.3,1194.3L438.3,1195.8L444.3,1197L450.3,1197.9L457.8,1198.8L466.8,1199.5L475.8,1200L495.3,1200.4L505.8,1200.4L517.8,1200.1L538.8,1199L556.8,1197.4L571.8,1195.5L579.3,1194.2L586.8,1192.8L592.8,1191.4L598.8,1189.8L604.8,1188L609.3,1186.4L615.3,1184L619.8,1181.9L624.3,1179.5L628.8,1176.8L633.3,1173.7L636.3,1171.3L640.8,1167.4L643.8,1164.4L648.3,1159.2L651.3,1155.3L654.3,1150.9L657.3,1146L660.3,1140.4L663.3,1134.1L666.3,1126.9L669.3,1118.8L673.8,1104.3L676.8,1092.8L678.3,1086.4L681.3,1072.1L682.8,1064.1L685.8,1046.3L688.8,1025.7L691.8,1001.9L694.8,974.5L699.3,926.6L710.4,788.1L713.4,757.2L716.4,736.4L719.4,729L722.4,736.3L725.4,757.1L728.4,788L736.8,893.9L739.8,929.7L742.8,962.2L745.8,991L748.8,1016.2L751.8,1038L754.8,1056.8L756.3,1065.2L759.3,1080.3L760.8,1087L763.8,1099.2L766.8,1109.7L769.8,1118.8L772.8,1126.8L775.8,1133.8L778.8,1139.9L781.8,1145.4L784.8,1150.1L789.3,1156.3L793.8,1161.5L798.3,1165.9L802.8,1169.6L807.3,1172.7L811.8,1175.4L817.8,1178.2L823.8,1180.2L829.8,1181.5L832.8,1181.8L835.8,1181.9L840.3,1181.5L844.8,1180.3L847.8,1178.9L850.8,1177.1L856.8,1172.8L858.3,1171.9L859.8,1171.2L861.3,1170.8L862.8,1170.8L864.3,1171.1L865.8,1171.9L867.3,1173L868.8,1174.3L874.8,1180.5L877.8,1183.3L880.8,1185.7L885.3,1188.6L889.8,1190.8L894.3,1192.5L898.8,1193.9L904.8,1195.3L912.3,1196.5L921.3,1197.6L931.8,1198.4L945.3,1199L960.3,1199.3L975.3,1199.4L990.3,1199.1L1005.3,1198.6L1017.3,1198L1029.3,1197.2L1039.8,1196.3L1050.3,1195.1L1059.3,1193.9L1068.3,1192.4L1077.3,1190.5L1084.8,1188.7L1092.3,1186.5L1098.3,1184.4L1104.3,1181.9L1110.3,1179L1116.3,1175.6L1120.8,1172.5L1125.3,1169L1129.8,1165L1132.8,1161.9L1135.8,1158.5L1138.8,1154.6L1141.8,1150.3L1144.8,1145.5L1147.8,1140.1L1152.3,1130.5L1156.8,1118.9L1159.8,1109.7L1161.3,1104.6L1164.3,1093.2L1165.8,1086.9L1168.8,1072.8L1171.8,1056.5L1174.8,1037.7L1177.8,1016L1180.8,991.2L1185.3,948.2L1195,844.3L1198,817.9L1201,799.9L1204,793.2L1207,798.9L1210,815.9L1213,841.3L1222.8,942.8L1227.3,983.9L1230.3,1007.4L1233.3,1027.8L1236.3,1045.3L1237.8,1053L1240.8,1066.7L1242.3,1072.7L1245.3,1083.3L1246.8,1088L1249.8,1096.1L1251.3,1099.6L1254.3,1105.7L1257.3,1110.7L1260.3,1114.6L1261.8,1116.2L1264.8,1118.8L1267.8,1120.6L1270.8,1121.6L1273.8,1121.8L1276.8,1121.4L1279.8,1120.1L1282.8,1118.1L1285.8,1115.3L1287.3,1113.6L1290.3,1109.4L1291.8,1106.9L1294.8,1101.2L1296.3,1097.9L1299.3,1090.2L1302.3,1081L1303.8,1075.8L1306.8,1063.9L1309.8,1049.9L1312.8,1033.4L1315.8,1014L1318.8,991.5L1323.3,951.3L1327.8,903.9L1335.8,813.5L1338.8,785.9L1341.8,767.4L1344.8,761.2L1347.8,768.4L1350.8,787.8L1353.8,816.3L1363.8,932L1368.3,978L1371.3,1004.4L1374.3,1027.6L1377.3,1047.7L1378.8,1056.7L1381.8,1072.8L1383.3,1080.1L1386.3,1093L1387.8,1098.9L1390.8,1109.4L1395.3,1122.7L1398.3,1130.1L1401.3,1136.7L1404.3,1142.5L1407.3,1147.7L1410.3,1152.3L1413.3,1156.4L1416.3,1160L1420.8,1164.8L1425.3,1169L1429.8,1172.5L1435.8,1176.6L1443.3,1180.7L1450.8,1184.1L1459.8,1187.4L1468.8,1190L1479.3,1192.4L1489.8,1194.2L1500.3,1195.6L1512.3,1196.7L1524.3,1197.2L1530.3,1197.1L1534.8,1196.8L1539.3,1196.2L1542.3,1195.7L1545.3,1195L1548.3,1194L1552.8,1192L1557.3,1189.1L1564.8,1183L1566.3,1181.9L1567.8,1181.1L1569.3,1180.5L1570.8,1180.4L1572.3,1180.5L1573.8,1181.1L1575.3,1182L1578.3,1184.4L1584.3,1189.7L1587.3,1191.9L1590.3,1193.8L1593.3,1195.3L1596.3,1196.4L1599.3,1197.3L1602.3,1198L1606.8,1198.7L1611.3,1199L1615.8,1198.9L1618.8,1198.7L1621.8,1198.2L1624.8,1197.6L1635.3,1194.3L1638.3,1193.8L1639.8,1193.7L1641.3,1193.9L1644.3,1194.6L1653.3,1198.3L1657.8,1199.8L1660.8,1200.6L1665.3,1201.5L1671.3,1202.3L1678.8,1202.9L1687.8,1203.3L1696.8,1203.4L1713.3,1202.9L1720.8,1202.4L1728.3,1201.6L1734.3,1200.8L1740.3,1199.6L1744.8,1198.5L1749.3,1197.1L1753.8,1195.3L1756.8,1193.8L1759.8,1192.1L1762.8,1190.1L1767.3,1186.5L1770.3,1183.8L1777.8,1176.5L1780.8,1173.9L1782.3,1172.9L1783.8,1172L1785.3,1171.5L1786.8,1171.1L1788.3,1171L1789.8,1171.1L1792.8,1171.9L1800.3,1175.2L1803.3,1176.2L1806.3,1176.8L1807.8,1177L1810.8,1176.9L1813.8,1176.5L1822.8,1174.2L1825.8,1173.8L1828.8,1173.9L1831.8,1174.7L1834.8,1176L1837.8,1177.9L1851.3,1188.6L1855.8,1191.6L1858.8,1193.4L1863.3,1195.7L1867.8,1197.6L1872.3,1199.1L1878.3,1200.8L1882.8,1201.8L1888.8,1202.9L1902.3,1204.6L1918.8,1205.9L1938.3,1206.9" stroke="#a800dc"/>
<path d="M136.8,1207.5L184.8,1206.5L222.3,1205.3L252.3,1203.8L264.3,1203L276.3,1201.9L286.8,1200.7L295.8,1199.5L303.3,1198.2L310.8,1196.6L318.3,1194.5L324.3,1192.5L330.3,1189.9L334.8,1187.5L339.3,1184.6L342.3,1182.4L346.8,1178.3L349.8,1175L352.8,1171.1L355.8,1166.5L358.8,1161.1L361.8,1154.7L364.8,1147.1L366.3,1142.8L369.3,1133L370.8,1127.6L373.8,1115.6L380.3,1086.7L383.3,1074.6L386.3,1066L389.3,1062.6L392.3,1065.3L395.3,1073.2L398.3,1084.5L403.8,1107.7L406.8,1119.4L409.8,1129.6L412.8,1138.3L415.8,1145.6L417.3,1148.7L420.3,1154.1L423.3,1158.4L424.8,1160.3L427.8,1163.4L430.8,1165.9L433.8,1167.9L436.8,1169.4L441.3,1170.9L444.3,1171.5L448.8,1171.9L451.8,1171.8L456.3,1171.2L460.8,1170.2L465.3,1168.6L469.8,1166.5L472.8,1164.8L477.3,1161.7L480.3,1159.4L484.8,1155.2L487.8,1151.9L490.8,1148.2L493.8,1144.1L496.8,1139.4L499.8,1134.1L504.3,1124.8L508.8,1113.6L513.3,1100L517.8,1083.3L520.8,1070.1L522.3,1062.9L525.3,1046.7L528.3,1028.2L531.3,1007L534.3,982.8L537.3,955.5L541.8,908.7L550.8,803.7L553,780L556,753.1L559,735.2L562,729L565,735.3L568,753.3L571,780.3L573.3,805.2L580.8,893.6L583.8,926.9L588.3,971.4L591.3,997.1L594.3,1019.8L595.8,1030.1L598.8,1048.7L600.3,1057.1L603.3,1072.2L607.8,1091.5L610.8,1102.3L613.8,1111.8L616.8,1120.2L619.8,1127.6L622.8,1134.2L627.3,1142.7L630.3,1147.6L634.8,1154.1L639.3,1159.6L643.8,1164.3L648.3,1168.4L654.3,1173L660.3,1176.9L666.3,1180.2L673.8,1183.6L681.3,1186.4L688.8,1188.8L696.3,1190.8L703.8,1192.4L712.8,1194.1L721.8,1195.5L732.3,1196.8L742.8,1197.8L753.3,1198.6L765.3,1199.2L777.3,1199.3L786.3,1199L793.8,1198.3L799.8,1197.1L804.3,1195.7L808.8,1193.8L814.8,1190.7L817.8,1189.3L820.8,1188.5L822.3,1188.5L823.8,1188.7L826.8,1189.7L835.8,1194.7L838.8,1196.1L841.8,1197.3L847.8,1199L855.3,1200.3L861.3,1200.9L867.3,1201.3L882.3,1201.9L901.8,1201.9L924.3,1201.5L948.3,1200.5L970.8,1198.8L981.3,1197.7L990.3,1196.6L999.3,1195.2L1006.8,1193.8L1014.3,1192.2L1021.8,1190.1L1027.8,1188.2L1033.8,1186L1039.8,1183.3L1044.3,1180.9L1048.8,1178.2L1053.3,1175.1L1057.8,1171.4L1060.8,1168.6L1063.8,1165.5L1066.8,1162L1069.8,1158L1072.8,1153.6L1077.3,1145.8L1081.8,1136.3L1086.3,1124.6L1089.3,1115.3L1090.8,1110.2L1093.8,1098.6L1096.8,1085.3L1099.8,1069.8L1102.8,1052L1105.8,1031.6L1108.8,1008.4L1111.8,982.6L1121,897.6L1124,874.9L1127,859.5L1130,854L1133,859.3L1136,874.4L1139,896.9L1147.8,977.7L1150.8,1003.5L1153.8,1026.8L1155.3,1037.4L1158.3,1056.7L1159.8,1065.3L1162.8,1080.8L1164.3,1087.7L1167.3,1100.1L1168.8,1105.6L1171.8,1115.5L1174.8,1124.1L1177.8,1131.4L1180.8,1137.8L1185.3,1145.8L1188.3,1150.3L1192.8,1155.9L1197.3,1160.6L1200.3,1163.2L1203.3,1165.4L1207.8,1168.3L1213.8,1171.3L1219.8,1173.4L1222.8,1174.2L1227.3,1175.2L1233.3,1175.9L1236.3,1176.1L1240.8,1176.1L1245.3,1175.7L1248.3,1175.4L1254.3,1174.2L1258.8,1172.9L1261.8,1171.8L1267.8,1169L1272.3,1166.4L1275.3,1164.3L1279.8,1160.6L1282.8,1157.7L1285.8,1154.3L1288.8,1150.6L1291.8,1146.2L1294.8,1141.3L1299.3,1132.4L1302.3,1125.4L1303.8,1121.4L1306.8,1112.7L1308.3,1107.8L1311.3,1096.9L1312.8,1090.8L1315.8,1077.2L1317.3,1069.6L1320.3,1052.5L1323.3,1032.8L1326.3,1010.2L1330.8,970.9L1340.8,871.8L1343.8,847.5L1346.8,831.1L1349.8,825.3L1352.8,831.2L1355.8,847.8L1358.8,872.3L1369.8,981.2L1374.3,1019.4L1377.3,1041.1L1380.3,1060.1L1383.3,1076.5L1386.3,1090.7L1387.8,1097L1390.8,1108.3L1392.3,1113.4L1395.3,1122.5L1399.8,1134L1404.3,1143.3L1408.8,1150.9L1411.8,1155.2L1414.8,1159L1417.8,1162.3L1420.8,1165.2L1423.8,1167.7L1428.3,1170.9L1431.3,1172.7L1435.8,1174.9L1440.3,1176.4L1443.3,1177.1L1447.8,1177.6L1450.8,1177.5L1453.8,1176.9L1456.8,1175.9L1459.8,1174.4L1461.3,1173.3L1464.3,1170.7L1465.8,1169.1L1468.8,1165.2L1476.3,1154L1477.8,1152.3L1479.3,1151.1L1480.8,1150.7L1482.3,1150.9L1483.8,1152L1485.3,1153.6L1488.3,1158.5L1492.8,1167L1495.8,1172.2L1498.8,1176.7L1500.3,1178.7L1503.3,1182L1504.8,1183.4L1507.8,1185.9L1512.3,1188.6L1516.8,1190.6L1519.8,1191.7L1522.8,1192.4L1525.8,1193.1L1530.3,1193.7L1534.8,1193.9L1539.3,1193.9L1543.8,1193.4L1546.8,1192.8L1551.3,1191.5L1554.3,1190.1L1557.3,1188.4L1558.8,1187.3L1561.8,1184.8L1563.3,1183.2L1564.8,1181.5L1567.8,1177.6L1572.3,1171L1575.3,1167L1576.8,1165.5L1578.3,1164.5L1579.8,1164.1L1581.3,1164.4L1582.8,1165.3L1584.3,1166.8L1587.3,1170.8L1593.3,1179.9L1596.3,1183.8L1599.3,1186.9L1602.3,1189.4L1605.3,1191.3L1608.3,1192.7L1611.3,1193.8L1614.3,1194.5L1618.8,1195L1623.3,1194.8L1626.3,1194.3L1629.3,1193.5L1632.3,1192.3L1641.3,1187.5L1642.8,1187L1644.3,1186.6L1645.8,1186.6L1647.3,1186.8L1648.8,1187.2L1650.3,1187.9L1653.3,1189.8L1659.3,1193.9L1663.8,1196.4L1666.8,1197.7L1671.3,1199.2L1677.3,1200.4L1684.8,1201.3L1693.8,1201.7L1702.8,1201.4L1710.3,1200.7L1716.3,1199.8L1722.3,1198.3L1726.8,1196.8L1731.3,1194.8L1735.8,1192.2L1744.8,1185.8L1747.8,1183.8L1750.8,1182.4L1752.3,1181.9L1753.8,1181.7L1756.8,1181.8L1759.8,1182.6L1767.3,1185.3L1770.3,1186L1771.8,1186.2L1774.8,1186.1L1776.3,1185.9L1779.3,1185.1L1780.8,1184.5L1782.3,1183.8L1785.3,1181.8L1788.3,1179.4L1791.3,1176.5L1804.8,1162.3L1807.8,1158.6L1813.8,1150.1L1815.3,1148.5L1816.8,1147.6L1818.3,1147.5L1819.8,1148.4L1821.3,1150.4L1822.8,1153.2L1824.3,1156.6L1828.8,1168.2L1831.8,1175.3L1833.3,1178.4L1836.3,1183.6L1839.3,1187.8L1842.3,1191.1L1843.8,1192.5L1846.8,1194.9L1851.3,1197.6L1854.3,1199L1857.3,1200.1L1863.3,1201.9L1870.8,1203.5L1879.8,1204.8L1890.3,1205.8L1903.8,1206.7L1918.8,1207.3L1938.3,1207.9" stroke="#00a374"/>
<path d="M136.8,1206.8L165.3,1205.6L187.8,1204.2L198.3,1203.3L207.3,1202.3L214.8,1201.3L222.3,1200L228.3,1198.8L234.3,1197.2L240.3,1195.3L244.8,1193.6L249.3,1191.5L253.8,1188.9L258.3,1185.8L261.3,1183.3L264.3,1180.4L267.3,1177L270.3,1173L271.8,1170.7L274.8,1165.5L276.3,1162.6L279.3,1155.8L280.8,1152L283.8,1143.3L285.3,1138.4L288.3,1127.3L291.3,1114.5L298,1082.7L301,1069.9L304,1060.8L307,1057.4L310,1060.5L313,1069.4L316,1082L322.8,1113.8L325.8,1126.2L328.8,1137L330.3,1141.8L333.3,1150.2L334.8,1153.9L337.8,1160.3L340.8,1165.7L343.8,1170.2L346.8,1173.9L349.8,1177L352.8,1179.6L355.8,1181.8L358.8,1183.6L361.8,1185.2L367.8,1187.6L373.8,1189.3L381.3,1190.6L388.8,1191.2L397.8,1191.3L406.8,1190.7L414.3,1189.7L421.8,1188.1L429.3,1186L436.8,1183.2L442.8,1180.3L448.8,1176.7L451.8,1174.5L454.8,1172.1L459.3,1167.9L463.8,1162.9L466.8,1159L469.8,1154.5L474.3,1146.6L477.3,1140.2L478.8,1136.7L481.8,1128.8L483.3,1124.4L486.3,1114.5L487.8,1108.9L490.8,1096.2L493.8,1081.2L495.3,1072.7L498.3,1053.3L501.3,1030.2L504.3,1002.9L507.3,970.7L508.8,952.8L513.3,891.6L519,806.4L522,766.8L525,739L528,729L531,739.1L534,766.8L537,806.5L543.3,900.5L546.3,941.6L549.3,977.9L552.3,1009.1L555.3,1035.6L558.3,1057.9L561.3,1076.7L562.8,1085L565.8,1099.5L567.3,1105.9L570.3,1117.3L573.3,1127L576.3,1135.3L579.3,1142.5L582.3,1148.7L585.3,1154.1L589.8,1161L594.3,1166.7L598.8,1171.4L603.3,1175.4L607.8,1178.8L612.3,1181.7L618.3,1185L624.3,1187.7L630.3,1189.9L636.3,1191.8L643.8,1193.8L651.3,1195.5L658.8,1196.9L667.8,1198.2L676.8,1199.3L687.3,1200.4L697.8,1201.2L711.3,1202.1L724.8,1202.7L756.3,1203.6L789.3,1203.8L804.3,1203.6L816.3,1203.2L828.3,1202.6L838.8,1201.5L846.3,1200.2L850.8,1199L853.8,1198.1L858.3,1196.2L862.8,1193.5L867.3,1190L873.3,1184.2L876.3,1181.6L877.8,1180.7L879.3,1180.1L880.8,1179.9L882.3,1180.1L883.8,1180.7L885.3,1181.7L886.8,1182.8L894.3,1189.6L898.8,1192.9L903.3,1195.2L907.8,1196.8L910.8,1197.6L915.3,1198.5L919.8,1199.1L924.3,1199.4L934.8,1199.7L948.3,1199.5L957.3,1199L966.3,1198.3L975.3,1197.4L984.3,1196.3L991.8,1195.1L999.3,1193.8L1006.8,1192.2L1012.8,1190.7L1018.8,1189L1024.8,1186.9L1030.8,1184.5L1035.3,1182.5L1039.8,1180.1L1044.3,1177.5L1048.8,1174.4L1051.8,1172.1L1056.3,1168.1L1059.3,1165.1L1062.3,1161.8L1065.3,1158.1L1068.3,1153.9L1071.3,1149.2L1074.3,1143.9L1077.3,1138L1081.8,1127.4L1086.3,1114.5L1089.3,1104.2L1090.8,1098.5L1093.8,1085.8L1095.3,1078.7L1098.3,1062.9L1101.3,1044.5L1104.3,1023.4L1107.3,999.1L1111.8,956.5L1122.8,835.1L1125.8,807.8L1128.8,789.3L1131.8,782.7L1134.8,789.1L1137.8,807.3L1140.8,834.4L1150.8,944.5L1155.3,988.2L1158.3,1013.4L1161.3,1035.3L1164.3,1054.2L1165.8,1062.7L1168.8,1077.9L1170.3,1084.6L1173.3,1096.7L1174.8,1102.1L1177.8,1111.8L1179.3,1116.2L1182.3,1124L1185.3,1130.7L1188.3,1136.6L1191.3,1141.7L1194.3,1146.2L1197.3,1150.1L1200.3,1153.5L1203.3,1156.5L1207.8,1160.3L1210.8,1162.4L1215.3,1165.1L1218.3,1166.5L1221.3,1167.8L1227.3,1169.6L1233.3,1170.7L1239.3,1171.1L1245.3,1170.8L1251.3,1169.9L1257.3,1168.2L1260.3,1167L1263.3,1165.6L1267.8,1163.1L1272.3,1159.8L1276.8,1155.8L1281.3,1150.8L1285.8,1144.6L1288.8,1139.7L1293.3,1130.9L1296.3,1123.9L1299.3,1115.7L1300.8,1111.2L1303.8,1101L1305.3,1095.3L1308.3,1082.5L1309.8,1075.4L1312.8,1059.3L1314.3,1050.4L1317.3,1030.5L1318.8,1019.5L1321.8,995.3L1324.8,968.5L1333.8,882.1L1336.8,858.6L1339.8,842.8L1342.8,837.3L1345.8,843.1L1348.8,859.2L1351.8,883L1360.8,970.3L1363.8,997.5L1366.8,1022L1369.8,1043.6L1372.8,1062.5L1375.8,1078.9L1377.3,1086.2L1380.3,1099.4L1381.8,1105.2L1384.8,1115.8L1386.3,1120.6L1389.3,1129.1L1393.8,1139.9L1396.8,1146L1399.8,1151.3L1402.8,1156L1405.8,1160.2L1408.8,1164L1411.8,1167.3L1414.8,1170.2L1419.3,1174.2L1422.3,1176.5L1426.8,1179.5L1429.8,1181.3L1434.3,1183.7L1441.8,1187.1L1450.8,1190.3L1459.8,1192.9L1470.3,1195.3L1482.3,1197.4L1495.8,1199.3L1510.8,1200.9L1530.3,1202.4L1551.3,1203.6L1575.3,1204.6L1602.3,1205.4L1632.3,1205.9L1660.8,1206L1684.8,1205.8L1704.3,1205.1L1716.3,1204.4L1725.3,1203.6L1734.3,1202.3L1741.8,1200.9L1747.8,1199.3L1753.8,1197.4L1777.8,1188.5L1780.8,1187.2L1783.8,1185.7L1788.3,1182.7L1791.3,1180.1L1794.3,1177.1L1803.3,1166.6L1806.3,1163.6L1807.8,1162.5L1809.3,1161.7L1810.8,1161.3L1812.3,1161.2L1813.8,1161.7L1815.3,1162.5L1816.8,1163.6L1818.3,1165.1L1821.3,1168.7L1830.3,1180.9L1834.8,1186L1837.8,1188.9L1840.8,1191.3L1845.3,1194.4L1849.8,1196.8L1854.3,1198.7L1860.3,1200.7L1867.8,1202.5L1875.3,1203.8L1884.3,1205L1894.8,1205.9L1906.8,1206.7L1921.8,1207.4L1938.3,1207.9" stroke="#00b1ee"/>
</g>
<g stroke="#f50f74" stroke-width="7.7" stroke-dasharray="7.73 7.73" fill="none">
<path d="M441.2,176V1206"/>
<path d="M801.0,176V1206"/>
<path d="M1143.9,176V1206"/>
<path d="M1344.9,176V1206"/>
</g>
<g fill="#f50f74">
<path d="M441.2,138L456.4,169.6H426.0Z"/>
<path d="M801.0,138L816.2,169.6H785.8Z"/>
<path d="M1143.9,138L1159.1000000000001,169.6H1128.7Z"/>
<path d="M1344.9,138L1360.1000000000001,169.6H1329.7Z"/>
</g>
<g fill="#f50f74" stroke="#f50f74" stroke-width="0.7" filter="url(#soft)">
<text class="b" font-size="40" text-anchor="middle" transform="translate(441.3,63.0) scale(1.0,1.035)">C<tspan font-size="26" font-weight="normal" dy="3.4">4</tspan><tspan dy="-3.4">=O</tspan></text>
<text class="b" font-size="40" text-anchor="middle" transform="translate(440.6,112.5) scale(1.0,1.035)">1700 cm<tspan font-size="24.0" dy="-11.0">−1</tspan></text>
<text class="b" font-size="40" text-anchor="middle" transform="translate(801.0,63.0) scale(1.0,1.035)">C<tspan font-size="26" font-weight="normal" dy="3.4">2</tspan><tspan dy="-3.4">=O</tspan></text>
<text class="b" font-size="40" text-anchor="middle" transform="translate(801.0,112.5) scale(1.0,1.035)">1640 cm<tspan font-size="24.0" dy="-11.0">−1</tspan></text>
<text class="b" font-size="40" text-anchor="middle" transform="translate(1144.4,62.0) scale(1.0,1.035)">C=N<tspan font-size="26" dy="3.4">in</tspan></text>
<text class="b" font-size="40" text-anchor="middle" transform="translate(1144.0,111.8) scale(1.0,1.035)">1580 cm<tspan font-size="24.0" dy="-11.0">−1</tspan></text>
<text class="b" font-size="40" text-anchor="middle" transform="translate(1345.4,62.0) scale(1.0,1.035)">C=N<tspan font-size="26" dy="3.4">out</tspan></text>
<text class="b" font-size="40" text-anchor="middle" transform="translate(1344.3,111.8) scale(1.0,1.035)">1548 cm<tspan font-size="24.0" dy="-11.0">−1</tspan></text>
</g>
<g fill="#000" stroke="#000" stroke-width="0.8" filter="url(#soft)">
<text class="b" font-size="65" text-anchor="end" transform="translate(1907.6,319.5) scale(1.0,1.035)">Experiment</text>
<text class="b" font-size="65" text-anchor="end" transform="translate(1907.2,822.6) scale(1.007,1.035)">M1 snapshots</text>
<text font-size="77" text-anchor="end" transform="translate(223.1,1302.6) scale(1.0,1.0)" stroke-width="1.6">1<tspan dx="-6.7">750</tspan></text>
<text font-size="77" text-anchor="end" transform="translate(522.2,1302.6) scale(1.0,1.0)" stroke-width="1.6">1<tspan dx="-6.7">700</tspan></text>
<text font-size="77" text-anchor="end" transform="translate(823.1,1302.6) scale(1.0,1.0)" stroke-width="1.6">1650</text>
<text font-size="77" text-anchor="end" transform="translate(1120.9,1302.6) scale(1.0,1.0)" stroke-width="1.6">1600</text>
<text font-size="77" text-anchor="end" transform="translate(1420.7,1302.6) scale(1.0,1.0)" stroke-width="1.6">1<tspan dx="-2.8">550</tspan></text>
<text font-size="77" text-anchor="end" transform="translate(1718.0,1302.6) scale(1.0,1.0)" stroke-width="1.6">1<tspan dx="-2.8">500</tspan></text>
<text font-size="77" text-anchor="end" transform="translate(2018.5,1302.6) scale(1.0,1.0)" stroke-width="1.6">1450</text>
<text class="b" font-size="65" text-anchor="middle" transform="translate(1037.0,1397.0) scale(1.0,1.035)">Frequency (cm<tspan font-size="39.0" dy="-17.9">−1</tspan><tspan dy="17.9">)</tspan></text>
<text class="b" font-size="65" text-anchor="middle" transform="translate(83.9,710.0) rotate(-90) scale(0.984,1.035)">Intensity (arb. units)</text>
</g>
</svg></body></html>
